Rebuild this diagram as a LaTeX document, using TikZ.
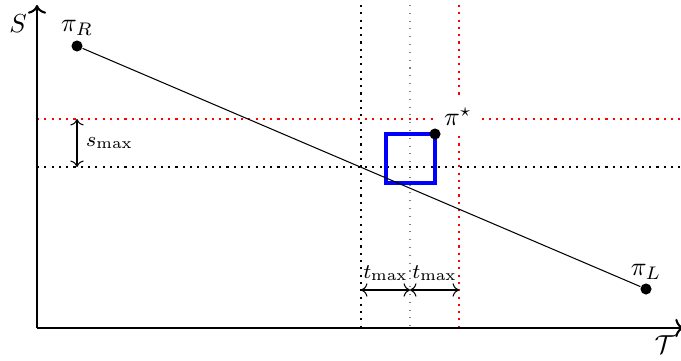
\documentclass[tikz,border=0pt]{standalone}
\usepackage{amsmath}
\usetikzlibrary{arrows.meta,positioning}

\begin{document}
\begin{tikzpicture}[
  x=0.0135cm, y=-0.0135cm,
  pt/.style={circle, fill, inner sep=0pt, minimum size=0.15cm},
  axis/.style={->, thick},
  guide/.style={dotted, thick},
  dim/.style={<->},
  lbl/.style={font=\footnotesize}
]
\useasboundingbox (0,0) rectangle (681,360);

% guide lines
\coordinate (o)    at (37,328);
\coordinate (ytop) at (37,5);
\coordinate (xend) at (684,328);
\coordinate (hs0)  at (37,167);  \coordinate (hs1) at (681,167);
\coordinate (hr0)  at (37,119);  \coordinate (hr1) at (681,119);
\coordinate (vt0)  at (361,5);   \coordinate (vt1) at (361,328);
\coordinate (vm0)  at (410,5);   \coordinate (vm1) at (410,328);
\coordinate (vr0)  at (459,5);   \coordinate (vr1) at (459,328);

\draw[guide] (hs0) -- (hs1);
\draw[guide, red] (hr0) -- (hr1);
\draw[guide] (vt0) -- (vt1);
\draw[gray, dash pattern=on 0.4pt off 2.6pt] (vm0) -- (vm1);
\draw[guide, red] (vr0) -- (vr1);

% policies
\node[fill=white] (lpistar) at (458,117) {$\pi^\star$};
\node[pt] (piR)    at (77,46)   {};
\node[pt] (piL)    at (646,289) {};
\coordinate (boxll) at (386,183);
\coordinate (boxur) at (435,134);

\draw[blue, very thick] (boxll) rectangle (boxur);
\node[pt] (pistar) at (boxur) {};
\draw (piR) -- (piL);

\node (lpiR) at (77,28)   {$\pi_R$};
\node (lpiL) at (646,272) {$\pi_L$};

% tolerances
\coordinate (s0) at (77,119);
\coordinate (s1) at (77,167);
\draw[dim] (s0) -- node[right, lbl] (smax) {$s_{\max}$} (s1);

\coordinate (t0) at (361,290);
\coordinate (t1) at (410,290);
\coordinate (t2) at (459,290);
\draw[dim] (t0) -- node[above, lbl] (tmaxl) {$t_{\max}$} (t1);
\draw[dim] (t1) -- node[above, lbl] (tmaxr) {$t_{\max}$} (t2);

% axes
\draw[axis] (o) -- (ytop);
\draw[axis] (o) -- (xend);
\node (ys) at (18,24)  {$S$};
\node (xt) at (665,345) {$\mathcal{T}$};
\end{tikzpicture}
\end{document}
